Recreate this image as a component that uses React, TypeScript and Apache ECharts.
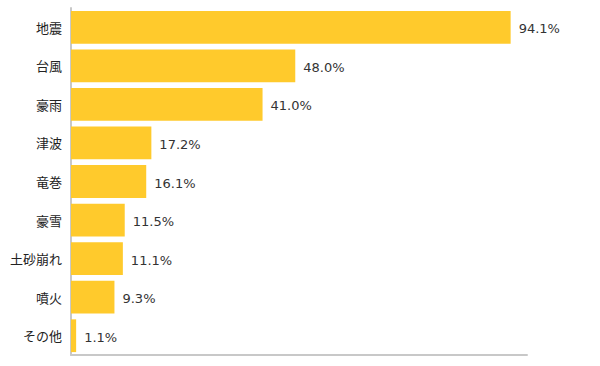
import React, { useEffect, useRef } from "react";
import * as echarts from "echarts";

const categories = ["地震", "台風", "豪雨", "津波", "竜巻", "豪雪", "土砂崩れ", "噴火", "その他"];
const values = [94.1, 48.0, 41.0, 17.2, 16.1, 11.5, 11.1, 9.3, 1.1];

export default function App() {
  const ref = useRef<HTMLDivElement>(null);
  useEffect(() => {
    const chart = echarts.init(ref.current!, null, { renderer: "svg" });
    chart.setOption({
      animation: false,
      grid: { left: 71, top: 8, right: 73, bottom: 11, containLabel: false },
      xAxis: {
        type: "value",
        min: 0,
        max: 97.6,
        axisLine: { show: true, lineStyle: { color: "#c8c8c8", width: 2 } },
        axisTick: { show: false },
        axisLabel: { show: false },
        splitLine: { show: false },
      },
      yAxis: {
        type: "category",
        data: categories,
        inverse: true,
        axisLine: { show: true, lineStyle: { color: "#c8c8c8", width: 2 } },
        axisTick: { show: false },
        axisLabel: {
          color: "#222",
          fontSize: 13,
          margin: 9,
          padding: [4, 0, 0, 0],
          fontFamily: "Noto Sans CJK JP",
        },
      },
      series: [
        {
          type: "bar",
          data: values,
          barCategoryGap: "15%",
          itemStyle: { color: "#FFCA2C" },
          label: {
            show: true,
            position: "right",
            distance: 8,
            offset: [0, 1.5],
            color: "#333",
            fontSize: 13,
            fontFamily: "DejaVu Sans",
            formatter: (p: any) => p.value.toFixed(1) + "%",
          },
        },
      ],
    });
    return () => chart.dispose();
  }, []);
  return <div ref={ref} style={{ width: 600, height: 366, position: "absolute", left: 0, top: 0 }} />;
}
